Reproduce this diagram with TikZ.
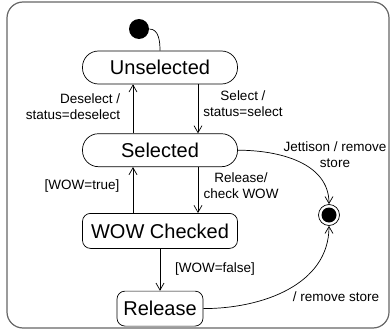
\documentclass[tikz,border=0pt]{standalone}
\usepackage{fontspec}
\setmainfont{Liberation Sans}
\usetikzlibrary{arrows.meta,positioning}

\begin{document}
\begin{tikzpicture}[->,>={Straight Barb[length=7pt,width=8pt]},line width=0.7pt,
  x=1pt,y=1pt,node distance=49pt,
  state node/.style={draw,rounded corners=16pt,minimum width=155pt,minimum height=33pt,font=\fontsize{20}{22}\selectfont},
  lbl/.style={font=\fontsize{13.5}{16}\selectfont,align=center,inner sep=1pt}]
    \useasboundingbox (0,0) rectangle (391,-332);
    \draw[-,draw=black!60,line width=1.2pt,rounded corners=16pt] (7,-2) rectangle (389,-328);
    \node[circle,fill,minimum size=20pt,inner sep=0](init) at (139,-29){};
    \node[state node](U) at (160,-67.5){Unselected};
    \node[state node,below=of U](S){Selected};
    \node[state node,rounded corners=8pt,below=46pt of S,minimum height=35pt](W){WOW Checked};
    \node[state node,rounded corners=8pt,below=42pt of W,minimum width=86pt,minimum height=35pt](R){Release};
    \node[circle,draw,minimum size=21pt,inner sep=0](fin) at (329,-215){};
    \node[circle,fill,minimum size=15pt,inner sep=0] at (fin){};
    \node[lbl,align=right](l1) at (73,-107){Deselect /\\status=deselect};
    \node[lbl](l2) at (243,-104){Select /\\status=select};
    \node[lbl](l3) at (335,-155){Jettison / remove\\store};
    \node[lbl](l4) at (82,-186){[WOW=true]};
    \node[lbl](l5) at (241,-186){Release/\\check WOW};
    \node[lbl](l6) at (215,-269){[WOW=false]};
    \node[lbl](l7) at (336,-297){/ remove store};
    \draw[-] (init.east) to[out=0,in=90] (U.north);
    \draw ([xshift=38pt]U.south) -- ([xshift=38pt]S.north);
    \draw ([xshift=-27pt]S.north) -- ([xshift=-27pt]U.south);
    \draw ([xshift=38pt]S.south) -- ([xshift=38pt]W.north);
    \draw ([xshift=-27pt]W.north) -- ([xshift=-27pt]S.south);
    \draw (W.south) -- (R.north);
    \draw (S.east) to[out=0,in=90] (fin.north);
    \draw (R.east) to[out=0,in=-90] (fin.south);

\end{tikzpicture}
\end{document}
